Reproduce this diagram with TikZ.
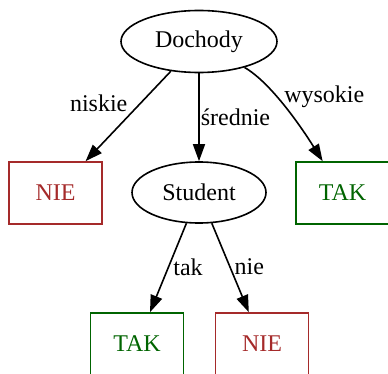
\documentclass[tikz,border=0pt]{standalone}
\usepackage{fontspec}
\setmainfont{Liberation Serif}
\usetikzlibrary{shapes.geometric, arrows.meta}
\definecolor{nie}{RGB}{165,42,42}
\definecolor{tak}{RGB}{0,100,0}
\tikzset{q/.style = {ellipse, draw, line width=1.6pt, inner sep=0pt},
           no/.style = {rectangle, draw=nie, text=nie, line width=1.6pt, minimum width=93pt, minimum height=62pt, inner sep=0pt},
           yes/.style = {rectangle, draw=tak, text=tak, line width=1.6pt, minimum width=93pt, minimum height=62pt, inner sep=0pt},
           lab/.style = {inner sep=0pt}}

\begin{document}
\begin{tikzpicture}[x=1pt, y=-1pt, >={Triangle[length=17pt, width=12pt]},
    font=\fontsize{24}{28}\selectfont]
    \useasboundingbox (0,0) rectangle (388,374);
    \clip (0,0) rectangle (388,374);
    \node[q, minimum width=156pt, minimum height=62pt] (d) at (199,41.5) {Dochody};
    \node[no] (n1) at (55.5,193) {NIE};
    \node[q, minimum width=134pt, minimum height=61pt] (s) at (199,192.5) {Student};
    \node[yes] (t1) at (342.5,193) {TAK};
    \node[yes] (t2) at (137,344) {TAK};
    \node[no] (n2) at (262,344) {NIE};
    \draw[->, line width=1.6pt] (d) -- node[lab, pos=0.36, left=12pt] {niskie} (n1);
    \draw[->, line width=1.6pt] (d) -- node[lab, pos=0.5, right=1pt] {średnie} (s);
    \draw[->, line width=1.6pt] (d) .. controls (270,82) and (300,125) .. node[lab, pos=0.4, right=7pt] {wysokie} (t1);
    \draw[->, line width=1.6pt] (s) -- node[lab, pos=0.49, right=4pt] {tak} (t2);
    \draw[->, line width=1.6pt] (s) -- node[lab, pos=0.49, right=4pt] {nie} (n2);
\end{tikzpicture}
\end{document}
